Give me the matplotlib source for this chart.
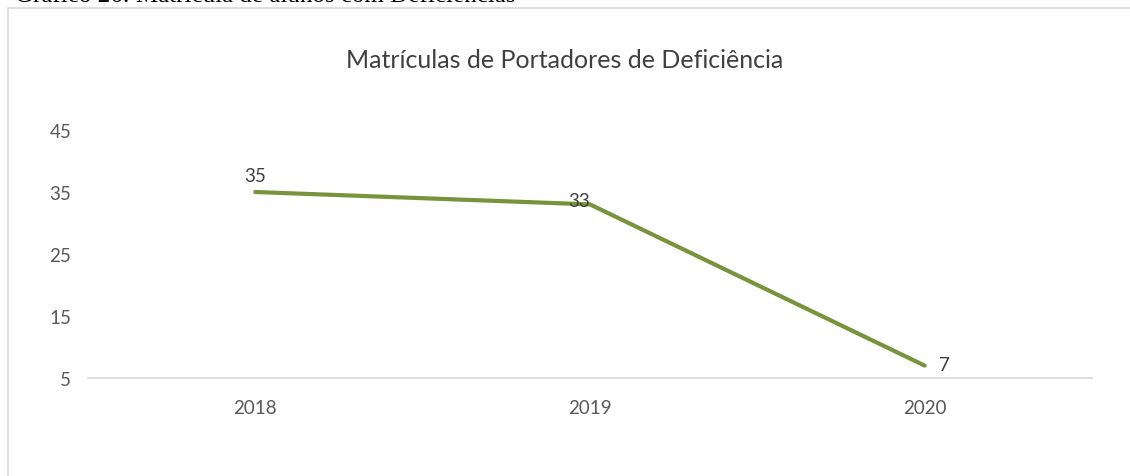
import matplotlib.pyplot as plt
from matplotlib.patches import Rectangle

anos = ["2018", "2019", "2020"]
matriculas = [35, 33, 7]
yticks = [5, 15, 25, 35, 45]

cor_linha = "#77933C"
cor_texto = "#595959"

fig = plt.figure(figsize=(11.3, 4.77), dpi=100)
plt.rcParams['font.family'] = ['Lato', 'DejaVu Sans']

# moldura do gráfico (cortada na direita e embaixo)
fig.patches.append(Rectangle((8 / 1130, -0.1), 1.2, 1 - 9 / 477 + 0.1,
                             transform=fig.transFigure, fill=False,
                             edgecolor="#d9d9d9", linewidth=1.2))

# legenda do documento, cortada no topo da imagem
fig.text(15 / 1130, 1 - 1.5 / 477, "Gráfico 26: Matrícula de alunos com Deficiências",
         family="Liberation Serif", fontsize=18, color="black", va="baseline")

ax = fig.add_axes([88 / 1130, 1 - 379 / 477, 1004 / 1130, 248 / 477])
x = range(len(anos))
ax.plot(x, matriculas, color=cor_linha, linewidth=3, solid_capstyle="round")

offsets = [(0, 12), (-8, 3), (14, 1)]
for i, v in enumerate(matriculas):
    ax.annotate(str(v), (i, v), xytext=offsets[i], textcoords="offset points",
                ha="center", va="center", fontsize=13.5, color="#404040")

ax.set_xlim(-0.5, 2.5)
ax.set_ylim(5, 45)
ax.set_xticks(list(x))
ax.set_xticklabels(anos)
ax.set_yticks(yticks)
ax.tick_params(length=0, labelsize=13.5, labelcolor=cor_texto)
ax.tick_params(axis="x", pad=15)
ax.tick_params(axis="y", pad=12)
for s in ["top", "right", "left"]:
    ax.spines[s].set_visible(False)
ax.spines["bottom"].set_color("#d9d9d9")
ax.spines["bottom"].set_linewidth(1.2)

fig.text(565 / 1130, 1 - 61 / 477, "Matrículas de Portadores de Deficiência",
         ha="center", va="center", fontsize=18, color="#404040")

fig.savefig("out.png", dpi=100)
